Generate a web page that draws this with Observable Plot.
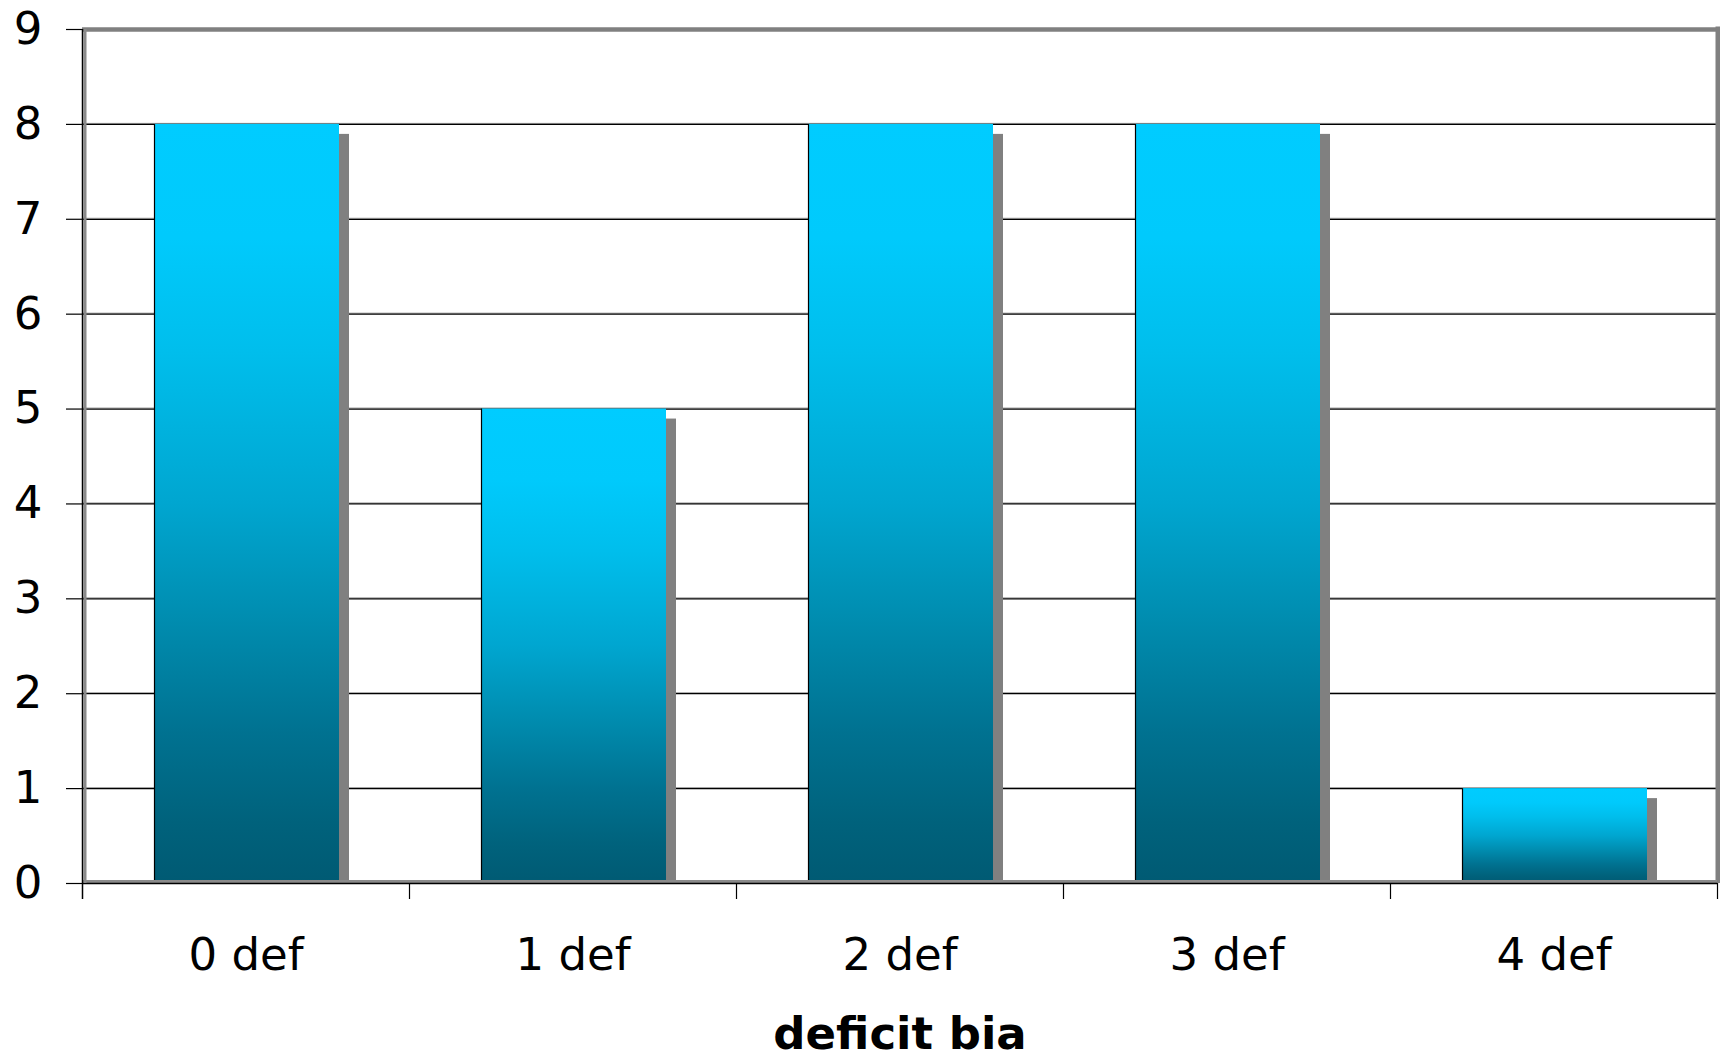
<!DOCTYPE html>
<html>
<head>
<meta charset="utf-8">
<script src="https://cdn.jsdelivr.net/npm/d3@7"></script>
<script src="https://cdn.jsdelivr.net/npm/@observablehq/plot@0.6"></script>
<style>
  html, body { margin: 0; padding: 0; background: #fff; }
  #chart { width: 1720px; height: 1059px; }
</style>
</head>
<body>
<div id="chart"></div>
<script>
// ---- data ----
const categories = ["0 def", "1 def", "2 def", "3 def", "4 def"];
const values = [8, 5, 8, 8, 1];
const yTicks = [0, 1, 2, 3, 4, 5, 6, 7, 8, 9];
const gridValues = [1, 2, 3, 4, 5, 6, 7, 8];
const xTitle = "deficit bia";

const data = categories.map((c, i) => ({cat: c, value: values[i]}));

// ---- layout ----
const W = 1720, H = 1059;
const mL = 82, mR = 3, mT = 29, mB = 176;
const step = (W - mL - mR) / categories.length;
const frameH = H - mT - mB;
const barInsetL = 72, barInsetR = 70;
const barW = step - barInsetL - barInsetR;
const shadow = 10;

const chart = Plot.plot({
  width: W,
  height: H,
  marginLeft: mL,
  marginRight: mR,
  marginTop: mT,
  marginBottom: mB,
  style: {fontFamily: "DejaVu Sans, Verdana, sans-serif", fontSize: "45px", color: "#000", background: "#fff", overflow: "visible"},
  x: {domain: categories, padding: 0, axis: null},
  y: {domain: [0, 9], axis: null},
  marks: [
    // gridlines
    Plot.ruleY(gridValues, {stroke: "#9a9a9a", strokeWidth: 1, dy: -1}),
    Plot.ruleY(gridValues, {stroke: "#000", strokeWidth: 1.2}),
    // shadows
    Plot.barY(data, {x: "cat", y: "value", fill: "#808080", insetTop: shadow, insetLeft: barInsetL + barW, insetRight: barInsetR - shadow}),
    // bars
    Plot.barY(data, {x: "cat", y: "value", fill: "url(#barGrad)", insetLeft: barInsetL, insetRight: barInsetR}),
    Plot.ruleX(data, {x: "cat", y1: 0, y2: "value", dx: -step / 2 + barInsetL, stroke: "#000", strokeWidth: 1.2}),
    // top border
    Plot.ruleY([9], {stroke: "#808080", strokeWidth: 4.5}),
    // right border
    Plot.ruleX([categories[categories.length - 1]], {dx: step / 2 + 0.5, stroke: "#808080", strokeWidth: 5, insetTop: -2.5}),
    // bottom axis
    Plot.ruleY([0], {stroke: "#8a8a8a", strokeWidth: 3, dy: -2}),
    Plot.ruleY([0], {stroke: "#000", strokeWidth: 1.5}),
    // left axis
    Plot.ruleX([categories[0]], {dx: -step / 2 + 2.5, stroke: "#8a8a8a", strokeWidth: 3}),
    Plot.ruleX([categories[0]], {dx: -step / 2, stroke: "#000", strokeWidth: 1.5, insetBottom: -16}),
    // x boundary ticks
    Plot.ruleX(categories.slice(1), {x: d => d, dx: -step / 2, stroke: "#000", strokeWidth: 1.2, insetTop: frameH, insetBottom: -16}),
    Plot.ruleX([categories[categories.length - 1]], {dx: step / 2, stroke: "#000", strokeWidth: 1.2, insetTop: frameH, insetBottom: -16}),
    // axes
    Plot.axisY({ticks: yTicks, tickSize: 16, tickPadding: 24, tickFormat: d => String(d), label: null, fontSize: 45, strokeWidth: 1.2}),
    Plot.axisX({tickSize: 0, tickPadding: 55, label: null, fontSize: 45}),
    // x title
    Plot.text([xTitle], {frameAnchor: "bottom", dy: 165, text: d => d, fontSize: 45, fontWeight: "bold", fill: "#000"})
  ]
});

const svg = chart.tagName.toLowerCase() === "svg" ? chart : chart.querySelector("svg");
const ns = "http://www.w3.org/2000/svg";
const defs = document.createElementNS(ns, "defs");
const grad = document.createElementNS(ns, "linearGradient");
grad.setAttribute("id", "barGrad");
grad.setAttribute("x1", "0"); grad.setAttribute("y1", "0");
grad.setAttribute("x2", "0"); grad.setAttribute("y2", "1");
[
  ["0%", "#00CCFF"],
  ["15%", "#00CAFC"],
  ["30%", "#00BEEC"],
  ["50%", "#00A6D0"],
  ["65%", "#008DB0"],
  ["80%", "#007291"],
  ["92%", "#00627C"],
  ["100%", "#005A73"]
].forEach(([o, c]) => {
  const s = document.createElementNS(ns, "stop");
  s.setAttribute("offset", o);
  s.setAttribute("stop-color", c);
  grad.appendChild(s);
});
defs.appendChild(grad);
svg.insertBefore(defs, svg.firstChild);

document.getElementById("chart").appendChild(chart);
</script>
</body>
</html>
